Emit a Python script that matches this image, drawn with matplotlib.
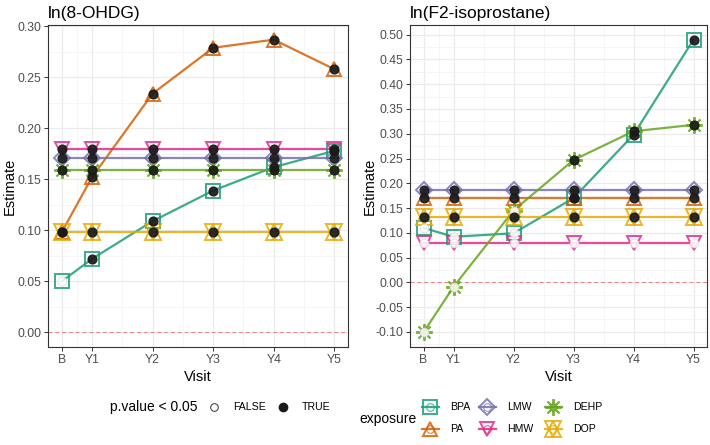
import matplotlib.pyplot as plt
import numpy as np

plt.rcParams['font.family'] = ['Liberation Sans', 'DejaVu Sans']

# visit labels and their positions on the time axis (years)
visits = ["B", "Y1", "Y2", "Y3", "Y4", "Y5"]
visit_pos = [0, 0.5, 1.5, 2.5, 3.5, 4.5]

exposures = ["BPA", "PA", "LMW", "HMW", "DEHP", "DOP"]
colors = {"BPA": "#1B9E77", "PA": "#D95F02", "LMW": "#7570B3",
          "HMW": "#E7298A", "DEHP": "#66A61E", "DOP": "#E6AB02"}

# ln(8-OHDG)
ohdg_est = {
    "BPA":  [0.050, 0.072, 0.109, 0.139, 0.162, 0.178],
    "PA":   [0.098, 0.152, 0.234, 0.279, 0.287, 0.258],
    "LMW":  [0.171, 0.171, 0.171, 0.171, 0.171, 0.171],
    "HMW":  [0.180, 0.180, 0.180, 0.180, 0.180, 0.180],
    "DEHP": [0.159, 0.159, 0.159, 0.159, 0.159, 0.159],
    "DOP":  [0.098, 0.098, 0.098, 0.098, 0.098, 0.098],
}
ohdg_sig = {
    "BPA":  [False, True, True, True, True, True],
    "PA":   [True] * 6,
    "LMW":  [True] * 6,
    "HMW":  [True] * 6,
    "DEHP": [True] * 6,
    "DOP":  [True] * 6,
}

# ln(F2-isoprostane)
f2_est = {
    "BPA":  [0.110, 0.092, 0.099, 0.170, 0.298, 0.490],
    "PA":   [0.170, 0.170, 0.170, 0.170, 0.170, 0.170],
    "LMW":  [0.187, 0.187, 0.187, 0.187, 0.187, 0.187],
    "HMW":  [0.080, 0.080, 0.080, 0.080, 0.080, 0.080],
    "DEHP": [-0.101, -0.009, 0.145, 0.247, 0.305, 0.318],
    "DOP":  [0.131, 0.131, 0.131, 0.131, 0.131, 0.131],
}
f2_sig = {
    "BPA":  [False, False, False, True, True, True],
    "PA":   [True] * 6,
    "LMW":  [True] * 6,
    "HMW":  [False] * 6,
    "DEHP": [False, False, False, True, True, True],
    "DOP":  [True] * 6,
}

ALPHA = 0.85
MEW = 1.4


def shape_markers(name):
    # (marker, size) pairs overlaid to mimic the ggplot shapes
    if name == "BPA":
        return [("s", 10)]
    if name == "PA":
        return [("^", 10.5)]
    if name == "LMW":
        return [("D", 8.4)]
    if name == "HMW":
        return [("v", 10.5)]
    if name == "DEHP":
        return [((8, 2, 0), 12)]
    return [("^", 11), ("v", 11)]  # DOP: star of David


def draw_panel(ax, est, sig, title, yticks):
    ax.axhline(0, color="#F08080", lw=0.7, ls=(0, (4, 3)), zorder=1)
    for name in exposures:
        c = colors[name]
        y = est[name]
        ax.plot(visit_pos, y, color=c, lw=1.6, alpha=ALPHA, zorder=2)
        for m, s in shape_markers(name):
            ax.plot(visit_pos, y, ls="none", marker=m, ms=s, mfc="none",
                    mec=c, mew=MEW, alpha=ALPHA, zorder=3)
        for xv, yv, sv in zip(visit_pos, y, sig[name]):
            if sv:
                ax.plot(xv, yv, "o", ms=6.3, mfc="#1a1a1a", mec="#1a1a1a",
                        alpha=0.92, zorder=4)
            else:
                ax.plot(xv, yv, "o", ms=6.3, mfc="white", mec="#d8d8d8",
                        mew=0.6, alpha=0.85, zorder=4)

    allv = np.concatenate([np.array(v) for v in est.values()] + [np.array([0.0])])
    lo, hi = allv.min(), allv.max()
    pad = (hi - lo) * 0.05
    ax.set_ylim(lo - pad, hi + pad)
    xpad = (max(visit_pos) - min(visit_pos)) * 0.05
    ax.set_xlim(min(visit_pos) - xpad, max(visit_pos) + xpad)

    ax.set_xticks(visit_pos)
    ax.set_xticklabels(visits)
    ax.set_xticks([0.25, 1, 2, 3, 4], minor=True)
    step = yticks[1] - yticks[0]
    ax.set_yticks(yticks)
    ax.set_yticklabels([f"{v:.2f}" for v in yticks])
    minors = np.arange(yticks[0] - step / 2, yticks[-1] + step, step)
    minors = [m for m in minors if lo - pad <= m <= hi + pad]
    ax.set_yticks(minors, minor=True)
    ax.grid(which="major", color="#EBEBEB", lw=0.9)
    ax.grid(which="minor", color="#F2F2F2", lw=0.5)
    ax.set_axisbelow(True)
    ax.tick_params(which="major", length=3, width=0.7, color="#333333",
                   labelsize=8.8, labelcolor="#4d4d4d", pad=2)
    ax.tick_params(which="minor", length=0)
    for sp in ax.spines.values():
        sp.set_color("#333333")
        sp.set_linewidth(0.8)
    ax.set_xlabel("Visit", fontsize=10.5)
    ax.set_ylabel("Estimate", fontsize=10.5)
    ax.set_title(title, loc="left", fontsize=12.5, pad=5)


fig = plt.figure(figsize=(7.1, 4.45), dpi=100)
ax1 = fig.add_axes([48 / 710, 1 - 347 / 445, 300 / 710, 322 / 445])
ax2 = fig.add_axes([410 / 710, 1 - 347 / 445, 297 / 710, 322 / 445])

draw_panel(ax1, ohdg_est, ohdg_sig, "ln(8-OHDG)",
           [0.00, 0.05, 0.10, 0.15, 0.20, 0.25, 0.30])
draw_panel(ax2, f2_est, f2_sig, "ln(F2-isoprostane)",
           [round(v, 2) for v in np.arange(-0.10, 0.501, 0.05)])
ax1.yaxis.set_label_coords(-0.105, 0.5)
ax2.yaxis.set_label_coords(-0.112, 0.5)
ax1.xaxis.set_label_coords(0.5, -0.072)
ax2.xaxis.set_label_coords(0.5, -0.072)

# legends drawn on an overlay in pixel coordinates
lg = fig.add_axes([0, 0, 1, 1])
lg.set_xlim(0, 710)
lg.set_ylim(445, 0)
lg.axis("off")

lg.text(110, 407, "p.value < 0.05", fontsize=10, va="center", ha="left")
lg.plot(214, 407, "o", ms=5.5, mfc="white", mec="#333333", mew=0.7)
lg.text(233, 407, "FALSE", fontsize=7.6, va="center", ha="left")
lg.plot(283, 407, "o", ms=6, mfc="#1a1a1a", mec="#1a1a1a")
lg.text(302, 407, "TRUE", fontsize=7.6, va="center", ha="left")

lg.text(359, 419, "exposure", fontsize=10, va="center", ha="left")
key_x = [430, 430, 487, 487, 553, 553]
key_y = [407, 429, 407, 429, 407, 429]
for name, kx, ky in zip(exposures, key_x, key_y):
    c = colors[name]
    lg.plot([kx - 8.5, kx + 8.5], [ky, ky], color=c, lw=1.6, alpha=ALPHA)
    for m, s in shape_markers(name):
        lg.plot(kx, ky, ls="none", marker=m, ms=s, mfc="none", mec=c,
                mew=MEW, alpha=ALPHA)
    lg.plot(kx, ky, "o", ms=5.5, mfc="none", mec=c, mew=0.7, alpha=ALPHA)
    lg.text(kx + 20, ky, name, fontsize=7.6, va="center", ha="left")

fig.savefig("out.png", dpi=100)
